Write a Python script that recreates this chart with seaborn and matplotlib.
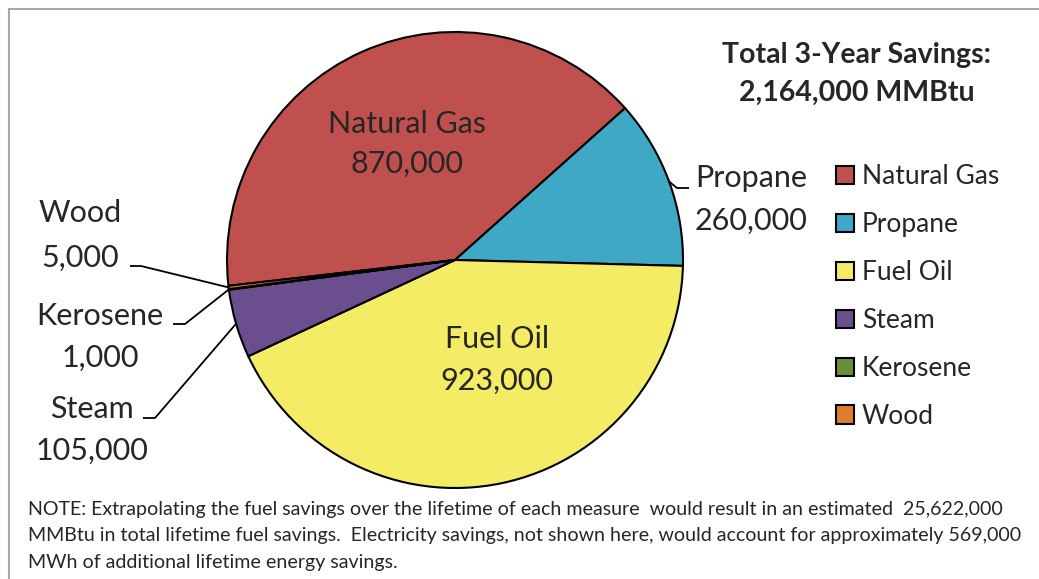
import numpy as np
import matplotlib
matplotlib.use("Agg")
import matplotlib.pyplot as plt
import seaborn as sns
from matplotlib.patches import Rectangle

# fuel savings data (MMBtu)
fuels = ["Natural Gas", "Propane", "Fuel Oil", "Steam", "Kerosene", "Wood"]
savings = [870000, 260000, 923000, 105000, 1000, 5000]
colors = ["#C0504D", "#3EA8C5", "#F5EC65", "#6B4E8D", "#6C8E3B", "#E07D2A"]
total_savings = 2164000

title_lines = ["Total 3-Year Savings:", "{:,} MMBtu".format(total_savings)]
note_lines = [
    "NOTE: Extrapolating the fuel savings over the lifetime of each measure  would result in an estimated  25,622,000",
    "MMBtu in total lifetime fuel savings.  Electricity savings, not shown here, would account for approximately 569,000",
    "MWh of additional lifetime energy savings.",
]

sns.set_style("white")
plt.rcParams["font.family"] = ["Lato", "DejaVu Sans"]

W, H = 1039, 579
fig = plt.figure(figsize=(W / 100, H / 100), dpi=100)
ax = fig.add_axes([0, 0, 1, 1])

# pie geometry in pixel units (y up)
cx, cy, r = 455, H - 260, 228
start = 186.5
wedges, _ = ax.pie(savings, colors=sns.color_palette(colors), startangle=start,
                   counterclock=False, center=(cx, cy), radius=r,
                   wedgeprops=dict(edgecolor="black", linewidth=1.5))
ax.set_xlim(0, W)
ax.set_ylim(0, H)
ax.set_aspect("equal")
ax.axis("off")

def edge_point(i):
    w = wedges[i]
    ang = np.deg2rad((w.theta1 + w.theta2) / 2)
    return cx + r * np.cos(ang), cy + r * np.sin(ang)

fs = 22
# label layout: (x center, baseline of name, baseline of value) in pixels from top
layout = {
    "Natural Gas": (407, 133, 173),
    "Fuel Oil": (497, 348, 390),
    "Propane": (751, 187, 230),
    "Wood": (80, 222, 267),
    "Kerosene": (100, 325, 367),
    "Steam": (92, 418, 460),
}
for name, val in zip(fuels, savings):
    x, b1, b2 = layout[name]
    ax.text(x, H - b1, name, ha="center", va="baseline", fontsize=fs)
    ax.text(x, H - b2, "{:,}".format(val), ha="center", va="baseline", fontsize=fs)

# leader lines: label end -> short horizontal -> wedge edge
leaders = {
    "Propane": (689, 677, 188),
    "Wood": (130, 141, 266),
    "Kerosene": (173, 185, 324),
    "Steam": (143, 155, 418),
}
for name, (x0, x1, yb) in leaders.items():
    px, py = edge_point(fuels.index(name))
    ax.plot([x0, x1, px], [H - yb, H - yb, py], color="black", lw=1.3,
            solid_capstyle="butt")

for i, line in enumerate(title_lines):
    ax.text(857, H - 63 - i * 38, line, ha="center", va="baseline", fontsize=20.5,
            fontweight="bold")

leg = ax.legend(wedges, fuels, loc="upper left", bbox_to_anchor=(836, H - 164),
                bbox_transform=ax.transData, frameon=False, fontsize=19,
                handlelength=0.68, handleheight=0.68, handletextpad=0.3,
                labelspacing=0.87, borderpad=0, borderaxespad=0)

for i, line in enumerate(note_lines):
    ax.text(28, H - 515 - i * 26.5, line, ha="left", va="baseline", fontsize=14.1)

ax.add_patch(Rectangle((9, -20), 1100, H - 9 + 20, fill=False,
                       edgecolor="#A6A6A6", lw=1.5, clip_on=False))

fig.savefig("out.png", dpi=100)
